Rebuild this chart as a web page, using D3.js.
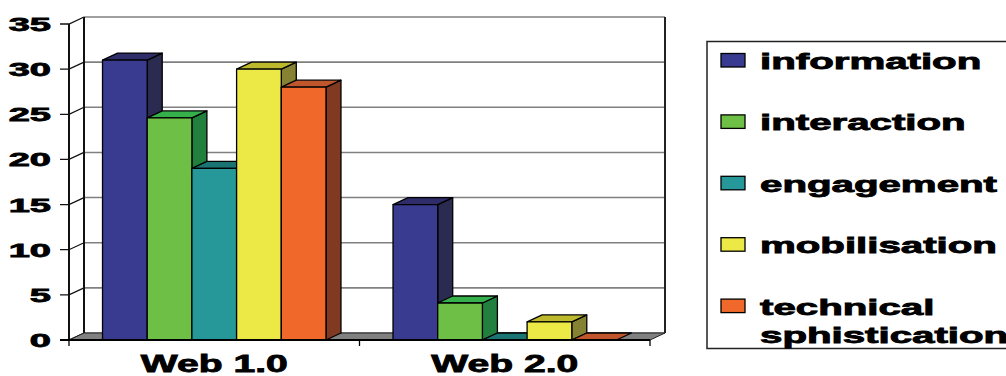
<!DOCTYPE html>
<html>
<head>
<meta charset="utf-8">
<script src="https://cdn.jsdelivr.net/npm/d3@7"></script>
<style>
  body { margin: 0; background: #fff; }
  text { font-family: "Liberation Sans", Arial, sans-serif; font-weight: bold; fill: #000; stroke: #000; stroke-width: 0.8px; }
</style>
</head>
<body>
<div id="chart"></div>
<script>
// data
var categories = ['Web 1.0', 'Web 2.0'];
var series = ['information', 'interaction', 'engagement', 'mobilisation', 'technical sphistication'];
var web1 = [31, 24.6, 19, 30, 28];
var web2 = [15, 4.1, 0, 2, 0];
var values = [web1, web2];
var yTicks = [0, 5, 10, 15, 20, 25, 30, 35];

// front, side, top shades for each series
var frontCol = ['#383b8f', '#6ebf46', '#27989a', '#ece846', '#f0692a'];
var sideCol  = ['#2b2a50', '#22803f', '#1c6f70', '#858233', '#7f3a21'];
var topCol   = ['#2e2d6a', '#35b04b', '#1b7474', '#bdb92d', '#c0562b'];

var W = 1006, H = 376;
var dx = 15, dy = -7;   // depth offset of the 3d box

var svg = d3.select('#chart').append('svg')
    .attr('width', W)
    .attr('height', H);

var x0 = d3.scaleBand().domain(categories).range([69, 650]).padding(0);
var barW = x0.bandwidth() / 6.5;   // gap width 150%
var x1 = d3.scaleBand().domain(series).range([0, barW * 5]);
var y = d3.scaleLinear().domain([0, 35]).range([340, 24]);

var left = x0.range()[0], right = x0.range()[1];

// back wall gridlines
svg.append('g').selectAll('line')
    .data(yTicks)
    .enter().append('line')
    .attr('x1', left + dx).attr('x2', right + dx)
    .attr('y1', function(d) { return y(d) + dy; })
    .attr('y2', function(d) { return y(d) + dy; })
    .style('stroke', '#808080')
    .style('stroke-width', 1.6);

// side wall lines and ticks
svg.append('g').selectAll('path')
    .data(yTicks)
    .enter().append('path')
    .attr('d', function(d) {
        return 'M' + (left - 9) + ',' + y(d) + 'L' + left + ',' + y(d) + 'L' + (left + dx) + ',' + (y(d) + dy);
    })
    .style('fill', 'none')
    .style('stroke', '#111')
    .style('stroke-width', 1.3);

// wall edges
svg.append('line')
    .attr('x1', left).attr('x2', left).attr('y1', y(0)).attr('y2', y(35))
    .style('stroke', '#111').style('stroke-width', 2);
svg.append('line')
    .attr('x1', left + dx).attr('x2', left + dx).attr('y1', y(0) + dy).attr('y2', y(35) + dy)
    .style('stroke', '#111').style('stroke-width', 2);
svg.append('line')
    .attr('x1', right + dx).attr('x2', right + dx).attr('y1', y(0) + dy).attr('y2', y(35) + dy)
    .style('stroke', '#222').style('stroke-width', 2);

// floor
svg.append('path')
    .attr('d', 'M' + left + ',' + y(0) + 'L' + right + ',' + y(0) + 'L' + (right + dx) + ',' + (y(0) + dy) +
        'L' + (left + dx) + ',' + (y(0) + dy) + 'Z')
    .style('fill', '#808080')
    .style('stroke', '#222')
    .style('stroke-width', 1);

// bars
categories.forEach(function(c, ci) {
    var gx = x0(c) + barW * 0.75;
    series.forEach(function(s, si) {
        var v = values[ci][si];
        var xa = gx + x1(s), xb = xa + barW;
        var yt = y(v), yb = y(0);
        var g = svg.append('g')
            .style('stroke', '#000')
            .style('stroke-width', 1.3)
            .style('stroke-linejoin', 'round');
        if (v > 0) {
            g.append('path')
                .attr('d', 'M' + xb + ',' + yb + 'L' + (xb + dx) + ',' + (yb + dy) + 'L' + (xb + dx) + ',' + (yt + dy) + 'L' + xb + ',' + yt + 'Z')
                .style('fill', sideCol[si]);
        }
        g.append('path')
            .attr('d', 'M' + xa + ',' + yt + 'L' + xb + ',' + yt + 'L' + (xb + dx) + ',' + (yt + dy) + 'L' + (xa + dx) + ',' + (yt + dy) + 'Z')
            .style('fill', topCol[si]);
        if (v > 0) {
            g.append('rect')
                .attr('x', xa).attr('y', yt)
                .attr('width', barW).attr('height', yb - yt)
                .style('fill', frontCol[si]);
        }
    });
});

// front axis line and category ticks
svg.append('line')
    .attr('x1', left - 9).attr('x2', right).attr('y1', y(0)).attr('y2', y(0))
    .style('stroke', '#000').style('stroke-width', 2);
svg.append('g').selectAll('line')
    .data([left].concat(categories.map(function(c) { return x0(c) + x0.bandwidth(); })))
    .enter().append('line')
    .attr('x1', function(d) { return d; }).attr('x2', function(d) { return d; })
    .attr('y1', y(0)).attr('y2', y(0) + 6)
    .style('stroke', '#000').style('stroke-width', 1.3);

// wide bold text like the original
function stretched(sel, x, yy, sx) {
    return sel.attr('transform', 'translate(' + x + ',' + yy + ') scale(' + sx + ',1)');
}

// y tick labels
svg.append('g').selectAll('text')
    .data(yTicks)
    .enter().append('text')
    .attr('text-anchor', 'end')
    .style('font-size', '19px')
    .attr('transform', function(d) { return 'translate(51,' + (y(d) + 7) + ') scale(2,1)'; })
    .text(function(d) { return d; });

// category labels
categories.forEach(function(c) {
    stretched(svg.append('text'), x0(c) + x0.bandwidth() / 2, 371.5, 1.7)
        .attr('text-anchor', 'middle')
        .style('font-size', '23px')
        .text(c);
});

// legend
var lg = svg.append('g');
lg.append('rect')
    .attr('x', 707).attr('y', 41.5)
    .attr('width', 310).attr('height', 307)
    .style('fill', '#fff')
    .style('stroke', '#222')
    .style('stroke-width', 1.5);

series.forEach(function(s, si) {
    var top = 53.5 + si * 61.4;
    lg.append('rect')
        .attr('x', 721).attr('y', top)
        .attr('width', 24).attr('height', 13.5)
        .style('fill', frontCol[si])
        .style('stroke', '#000')
        .style('stroke-width', 1.3);
    s.split(' ').forEach(function(word, wi) {
        stretched(lg.append('text'), 760, top + 15.5 + wi * 28, 1.89)
            .style('font-size', '21.3px')
            .text(word);
    });
});
</script>
</body>
</html>
